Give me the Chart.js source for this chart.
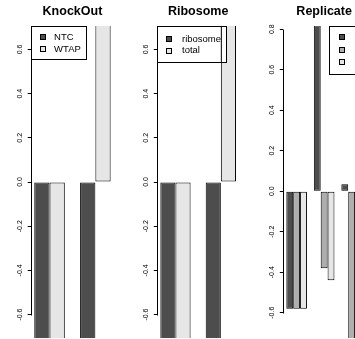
<!DOCTYPE html>
<html><head><meta charset="utf-8">
<script src="https://cdn.jsdelivr.net/npm/chart.js@4/dist/chart.umd.min.js"></script>
<style>
html,body{margin:0;padding:0;background:#fff;}
body{width:355px;height:339px;overflow:hidden;position:relative;}
canvas{position:absolute;top:0;}
</style></head><body>
<canvas id="c1" width="118" height="339" style="left:0px;width:118px;height:339px"></canvas>
<canvas id="c2" width="124" height="339" style="left:118px;width:124px;height:339px"></canvas>
<canvas id="c3" width="130" height="339" style="left:242px;width:130px;height:339px"></canvas>
<script>
// ---- data ----
const knockoutGroups = ['group 1', 'group 2'];
const knockoutNTC  = [-0.71, -0.71];
const knockoutWTAP = [-0.71, 0.71];

const ribosomeGroups = ['group 1', 'group 2'];
const ribosomeRibosome = [-0.71, -0.71];
const ribosomeTotal    = [-0.71, 0.71];

const replicateGroups = ['group 1', 'group 2', 'group 3'];
const replicateLabels = ['1', '2', '3'];
const replicateRep1 = [-0.58, 0.82, 0.035];
const replicateRep2 = [-0.58, -0.38, -0.73];
const replicateRep3 = [-0.58, -0.44, 0.70];

const ticksKnockout  = [-0.6, -0.4, -0.2, 0.0, 0.2, 0.4, 0.6];
const ticksRibosome  = [-0.6, -0.4, -0.2, 0.0, 0.2, 0.4, 0.6];
const ticksReplicate = [-0.6, -0.4, -0.2, 0.0, 0.2, 0.4, 0.6, 0.8];

// ---- style ----
const FONT = "'Liberation Sans', Arial, Helvetica, sans-serif";
const GREYS2 = ['#4D4D4D', '#E6E6E6'];
const GREYS3 = ['#4D4D4D', '#AEAEAE', '#E6E6E6'];

const rAxisPlugin = {
  id: 'rAxis',
  afterDraw(chart) {
    const y = chart.scales.y, ca = chart.chartArea, ctx = chart.ctx;
    const t = y.ticks;
    const x = Math.round(ca.left) + 0.5;
    ctx.save();
    ctx.strokeStyle = '#000'; ctx.lineWidth = 1;
    ctx.beginPath();
    ctx.moveTo(x, Math.round(y.getPixelForValue(t[0].value)) + 0.5);
    ctx.lineTo(x, Math.round(y.getPixelForValue(t[t.length - 1].value)) + 0.5);
    ctx.stroke();
    ctx.restore();
  }
};

const rLegendPlugin = {
  id: 'rLegend',
  afterDatasetsDraw(chart, args, o) {
    const ca = chart.chartArea, ctx = chart.ctx;
    ctx.save();
    ctx.font = o.fontSize + 'px ' + FONT;
    const labels = chart.data.datasets.map(d => d.label);
    const tw = Math.max(...labels.map(l => ctx.measureText(l).width));
    const bw = Math.round(o.textX + tw + o.padRight), bh = Math.round(o.height);
    const bx = o.align === 'right' ? Math.round(ca.right - bw) : Math.round(ca.left);
    const by = Math.round(ca.top);
    ctx.fillStyle = '#fff';
    ctx.fillRect(bx, by, bw, bh);
    // bar outlines remain visible through the legend
    ctx.save();
    ctx.beginPath(); ctx.rect(bx, by, bw, bh); ctx.clip();
    ctx.strokeStyle = '#000'; ctx.lineWidth = 1;
    chart.data.datasets.forEach((d, di) => {
      chart.getDatasetMeta(di).data.forEach(bar => {
        const p = bar.getProps(['x', 'y', 'base', 'width'], true);
        const l = p.x - p.width / 2, r = p.x + p.width / 2;
        const t = Math.min(p.y, p.base), b = Math.max(p.y, p.base);
        ctx.strokeRect(l + 0.5, t + 0.5, r - l - 1, b - t - 1);
      });
    });
    ctx.restore();
    ctx.strokeStyle = '#000'; ctx.lineWidth = 1;
    ctx.strokeRect(bx + 0.5, by + 0.5, bw, bh);
    ctx.textBaseline = 'middle'; ctx.textAlign = 'left';
    labels.forEach((l, i) => {
      const cy = by + o.firstRow + i * o.rowGap;
      const s = o.swatch;
      const sx = Math.round(bx + o.swatchX), sy = Math.round(cy - s / 2);
      ctx.fillStyle = chart.data.datasets[i].backgroundColor;
      ctx.fillRect(sx, sy, s, s);
      ctx.strokeStyle = '#000';
      ctx.strokeRect(sx + 0.5, sy + 0.5, s - 1, s - 1);
      ctx.fillStyle = '#000';
      ctx.fillText(l, bx + o.textX, cy);
    });
    ctx.restore();
  }
};

function makePanel(id, cfg) {
  const n = cfg.series.length, g = cfg.groups.length;
  const center = i => 1 + i * (n + 1) + n / 2;
  const lo = 1, hi = g * (n + 1), ext = 0.04 * (hi - lo);
  const datasets = cfg.series.map((s, k) => ({
    label: s.label,
    data: s.values.map((v, i) => ({ x: center(i), y: v })),
    backgroundColor: cfg.colors[k],
    borderColor: '#000',
    borderWidth: 1,
    borderSkipped: false,
    barPercentage: 1,
    categoryPercentage: n / (n + 1)
  }));
  return new Chart(document.getElementById(id), {
    type: 'bar',
    data: { labels: cfg.groups, datasets },
    options: {
      responsive: false, animation: false, devicePixelRatio: 1,
      layout: { padding: { left: 0, top: 0, right: cfg.padRight, bottom: 1 } },
      scales: {
        x: {
          type: 'linear', display: false, offset: false, bounds: 'data',
          min: lo - ext, max: hi + ext,
          grid: { offset: false },
          afterBuildTicks: s => { s.ticks = cfg.groups.map((_, i) => ({ value: center(i) })); }
        },
        y: {
          type: 'linear', min: cfg.yMin, max: cfg.yMax,
          border: { display: false },
          grid: { display: true, drawOnChartArea: false, drawTicks: true, tickLength: 3.5, color: '#000', lineWidth: 1 },
          ticks: {
            autoSkip: false, minRotation: 90, maxRotation: 90, crossAlign: 'center',
            padding: 1.5, color: '#000', font: { family: FONT, size: 7 },
            callback: v => Number(v).toFixed(1)
          },
          afterBuildTicks: s => { s.ticks = cfg.ticks.map(v => ({ value: v })); },
          afterFit: s => { s.width = cfg.axisX; s.paddingTop = 0; s.paddingBottom = 0; }
        }
      },
      plugins: {
        legend: { display: false },
        tooltip: { enabled: false },
        title: {
          display: true, text: cfg.title, fullSize: false, color: '#000',
          font: { family: FONT, size: 12.5, weight: 'bold', lineHeight: 1.2 },
          padding: { top: 4.2, bottom: 6.8 }
        },
        rLegend: cfg.legend
      }
    },
    plugins: [rAxisPlugin, rLegendPlugin]
  });
}

makePanel('c1', {
  title: 'KnockOut', groups: knockoutGroups,
  series: [{ label: 'NTC', values: knockoutNTC }, { label: 'WTAP', values: knockoutWTAP }],
  colors: GREYS2, ticks: ticksKnockout, yMin: -0.706, yMax: 0.706,
  axisX: 31.2, padRight: 118 - 113.7,
  legend: { align: 'left', fontSize: 9.5, firstRow: 11.3, rowGap: 11.8, height: 33.3, swatch: 6, swatchX: 8.8, textX: 23.1, padRight: 5.3 }
});
makePanel('c2', {
  title: 'Ribosome', groups: ribosomeGroups,
  series: [{ label: 'ribosome', values: ribosomeRibosome }, { label: 'total', values: ribosomeTotal }],
  colors: GREYS2, ticks: ticksRibosome, yMin: -0.706, yMax: 0.706,
  axisX: 39.3, padRight: 124 - (239 - 118),
  legend: { align: 'left', fontSize: 9.5, firstRow: 13.1, rowGap: 11.7, height: 35.5, swatch: 6, swatchX: 9.4, textX: 25, padRight: 5 }
});
makePanel('c3', {
  title: 'Replicate', groups: replicateGroups,
  series: [
    { label: replicateLabels[0], values: replicateRep1 },
    { label: replicateLabels[1], values: replicateRep2 },
    { label: replicateLabels[2], values: replicateRep3 }
  ],
  colors: GREYS3, ticks: ticksReplicate, yMin: -0.725, yMax: 0.816,
  axisX: 41.3, padRight: 130 - (365 - 242),
  legend: { align: 'right', fontSize: 9.5, firstRow: 11, rowGap: 12.5, height: 48.3, swatch: 6, swatchX: 10.3, textX: 25.5, padRight: 5 }
});
</script>
</body></html>
